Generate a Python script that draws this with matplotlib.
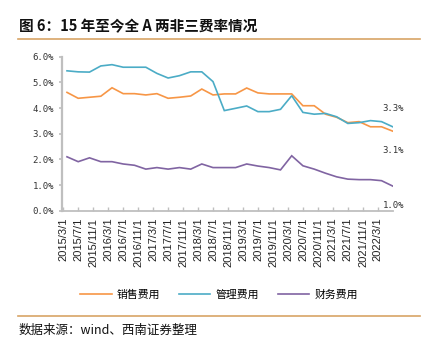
import matplotlib
matplotlib.use("Agg")
import matplotlib.pyplot as plt
import matplotlib.dates as mdates
import pandas as pd
from matplotlib.lines import Line2D

plt.rcParams['font.family'] = ['Liberation Sans', 'Noto Sans CJK SC', 'DejaVu Sans']

# ---- data ----
dates = ["2015-03-31", "2015-06-30", "2015-09-30", "2015-12-31",
         "2016-03-31", "2016-06-30", "2016-09-30", "2016-12-31",
         "2017-03-31", "2017-06-30", "2017-09-30", "2017-12-31",
         "2018-03-31", "2018-06-30", "2018-09-30", "2018-12-31",
         "2019-03-31", "2019-06-30", "2019-09-30", "2019-12-31",
         "2020-03-31", "2020-06-30", "2020-09-30", "2020-12-31",
         "2021-03-31", "2021-06-30", "2021-09-30", "2021-12-31",
         "2022-03-31", "2022-06-30"]
sales = [4.61, 4.38, 4.42, 4.46, 4.79, 4.56, 4.56, 4.51, 4.56, 4.38,
         4.42, 4.47, 4.74, 4.51, 4.55, 4.55, 4.78, 4.59, 4.55, 4.55,
         4.55, 4.09, 4.09, 3.76, 3.64, 3.43, 3.47, 3.27, 3.27, 3.10]
admin = [5.45, 5.41, 5.40, 5.64, 5.69, 5.59, 5.59, 5.59, 5.35, 5.17,
         5.26, 5.41, 5.41, 5.03, 3.90, 3.99, 4.08, 3.86, 3.86, 3.95,
         4.48, 3.83, 3.76, 3.79, 3.66, 3.40, 3.43, 3.51, 3.47, 3.27]
finance = [2.10, 1.91, 2.06, 1.91, 1.91, 1.82, 1.77, 1.62, 1.68, 1.62,
           1.68, 1.62, 1.82, 1.68, 1.68, 1.68, 1.82, 1.74, 1.68, 1.59,
           2.14, 1.75, 1.62, 1.46, 1.32, 1.23, 1.21, 1.21, 1.17, 0.96]
series_names = ["销售费用", "管理费用", "财务费用"]
tick_labels = ["2015/3/1", "2015/7/1", "2015/11/1", "2016/3/1", "2016/7/1",
               "2016/11/1", "2017/3/1", "2017/7/1", "2017/11/1", "2018/3/1",
               "2018/7/1", "2018/11/1", "2019/3/1", "2019/7/1", "2019/11/1",
               "2020/3/1", "2020/7/1", "2020/11/1", "2021/3/1", "2021/7/1",
               "2021/11/1", "2022/3/1"]
yticks = [0, 1, 2, 3, 4, 5, 6]
title = "图 6：15 年至今全 A 两非三费率情况"
source = "数据来源：wind、西南证券整理"

colors = ["#F79646", "#4BACC6", "#8064A2"]

x = pd.to_datetime(dates)
tick_pos = pd.to_datetime(tick_labels, format="%Y/%m/%d")

fig = plt.figure(figsize=(4.30, 3.51), dpi=100)
W, H = 430, 351
ax = fig.add_axes([61.7 / W, 1 - 210.7 / H, (392.7 - 61.7) / W, (210.7 - 56.7) / H])

for vals, c, n in zip([sales, admin, finance], colors, series_names):
    ax.plot(x, vals, color=c, lw=1.2, label=n, solid_joinstyle='miter')

ax.set_ylim(0, 6)
ax.set_xlim(tick_pos[0] - pd.Timedelta(days=13), x[-1])
ax.set_yticks(yticks)
ax.set_yticklabels([f"{v:.1f}%" for v in yticks], family='DejaVu Sans Mono',
                   fontsize=6.5, color='#333333')
ax.set_xticks(tick_pos)
ax.set_xticklabels(tick_labels, rotation=90, fontsize=8, color='#222222')
ax.tick_params(axis='x', direction='in', length=3, color='#BFBFBF', width=1, pad=5)
ax.tick_params(axis='y', direction='out', length=2.5, color='#BFBFBF', width=1.2, pad=3)

for s in ['top', 'right']:
    ax.spines[s].set_visible(False)
ax.spines['left'].set_color('#BFBFBF')
ax.spines['left'].set_linewidth(1.6)
ax.spines['bottom'].set_color('#BFBFBF')
ax.spines['bottom'].set_linewidth(1.3)
ax.set_facecolor('none')

# end-value labels
for vals, yf in zip([admin, sales, finance], [0.665, 0.393, 0.032]):
    ax.text(0.97, yf, f"{vals[-1]:.1f}%", transform=ax.transAxes, ha='left', va='center',
            family='DejaVu Sans Mono', fontsize=6.5, color='#333333', clip_on=False)

# legend
handles = [Line2D([], [], color=c, lw=1.2) for c in colors]
fig.legend(handles, series_names, loc='center', bbox_to_anchor=(219 / W, 1 - 295 / H),
           ncol=3, frameon=False, handlelength=2.9, handletextpad=0.5, columnspacing=1.7,
           prop={'family': ['Noto Sans CJK SC'], 'size': 7.8})

# title and rules
fig.text(19 / W, 1 - 26.7 / H, title, fontsize=10.5, fontweight='bold', va='center', ha='left',
         family=['Noto Sans CJK SC', 'DejaVu Sans'], color='#111111')
line_color = '#D8A466'
fig.add_artist(Line2D([18.3 / W, 420 / W], [1 - 39.3 / H, 1 - 39.3 / H],
                      color=line_color, lw=1.2, transform=fig.transFigure))
fig.add_artist(Line2D([18.3 / W, 420 / W], [1 - 315.7 / H, 1 - 315.7 / H],
                      color=line_color, lw=1.2, transform=fig.transFigure))
fig.text(18.5 / W, 1 - 330.7 / H, source, fontsize=9, va='center', ha='left', style='italic',
         family=['Noto Sans CJK SC', 'DejaVu Sans'], color='#111111')

fig.savefig("out.png", dpi=100)
